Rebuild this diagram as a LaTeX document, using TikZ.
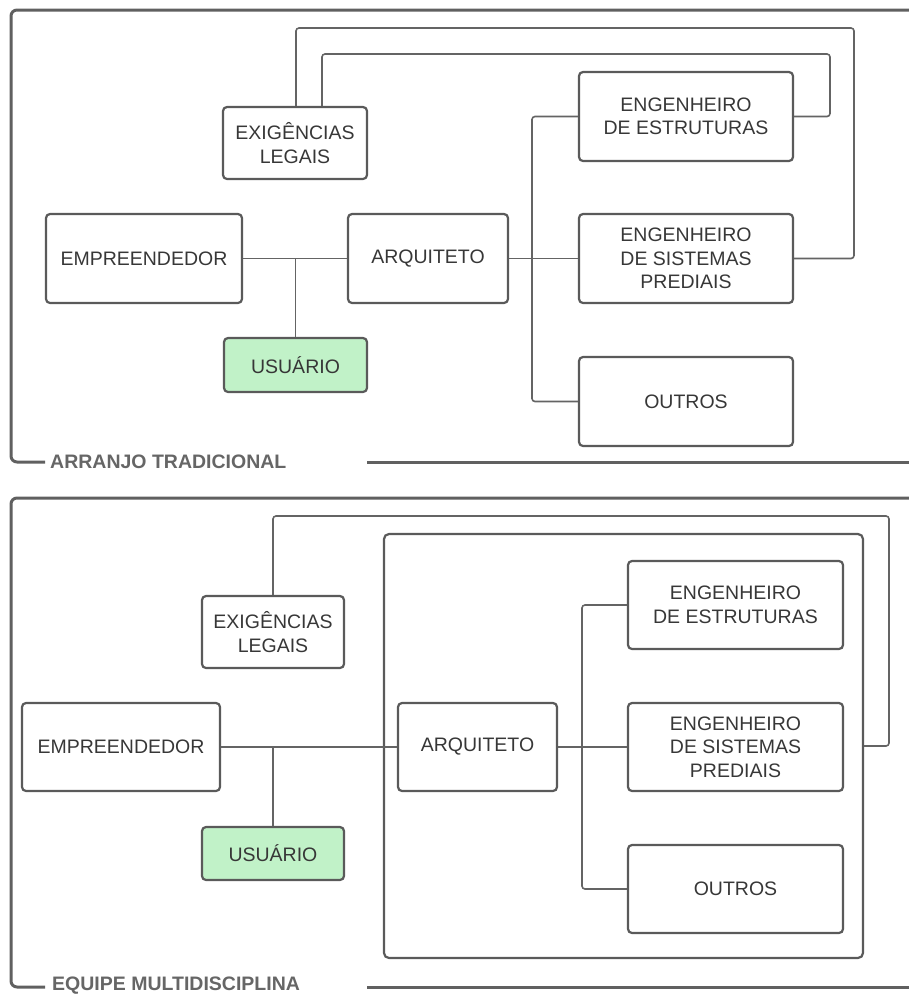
\documentclass[tikz,border=0pt]{standalone}
\usepackage{fontspec}
\setmainfont{Liberation Sans}
\begin{document}
\definecolor{boxline}{RGB}{90,90,90}
\definecolor{connline}{RGB}{100,100,100}
\definecolor{frameline}{RGB}{96,96,96}
\definecolor{labeltext}{RGB}{102,102,102}
\definecolor{bodytext}{RGB}{55,55,55}
\definecolor{userfill}{RGB}{193,242,200}
\begin{tikzpicture}[x=1pt,y=-1pt,
  box/.style={draw=boxline, line width=2.2pt, rounded corners=4pt, inner sep=0pt,
    align=center, text=bodytext, font=\fontsize{19.5}{23.5}\selectfont},
  userbox/.style={box, fill=userfill},
  teambox/.style={draw=boxline, line width=2.2pt, rounded corners=5pt, inner sep=0pt},
  conn/.style={draw=connline, line width=1.6pt, rounded corners=3pt},
  frame/.style={draw=frameline, line width=3pt, rounded corners=6pt},
  framelabel/.style={text=labeltext, inner sep=0pt, anchor=base west,
    font=\bfseries\fontsize{19.5}{23.5}\selectfont}]
\useasboundingbox (0,0) rectangle (909,994);

% ---------- traditional arrangement ----------
\draw[frame] (909,10) -- (11,10) -- (11,462) -- (45,462);
\node[framelabel] (lblA) at (50,468) {ARRANJO TRADICIONAL};
\draw[frame] (367,462) -- (909,462);

\node[box, minimum width=144pt, minimum height=72pt] (exA) at (295,143) {EXIGÊNCIAS\\LEGAIS};
\node[box, minimum width=214pt, minimum height=89pt] (estA) at (686,116.5) {ENGENHEIRO\\DE ESTRUTURAS};
\node[box, minimum width=214pt, minimum height=89pt] (sisA) at (686,258.5) {ENGENHEIRO\\DE SISTEMAS\\PREDIAIS};
\node[box, minimum width=214pt, minimum height=89pt] (outA) at (686,401.5) {OUTROS};
\node[box, minimum width=160pt, minimum height=89pt] (arqA) at (428,258.5) {ARQUITETO};
\node[box, minimum width=196pt, minimum height=89pt] (empA) at (144,258.5) {EMPREENDEDOR};
\node[userbox, minimum width=143pt, minimum height=54pt] (usuA) at (295.5,365) {USUÁRIO};

\coordinate (busA) at (532,0);
\coordinate (topA1) at (854,28);
\coordinate (topA2) at (830,54);

\draw[conn] (empA.east) -- (arqA.west);
\draw[conn] (usuA.north) -- (usuA.north |- empA.east);
\draw[conn] (arqA.east) -- (sisA.west);
\draw[conn] (estA.west) -- (estA.west -| busA) -- (outA.west -| busA) -- (outA.west);
\draw[conn] ([xshift=1pt]exA.north) |- (topA1) |- (sisA.east);
\draw[conn] ([xshift=27pt]exA.north) |- (topA2) |- (estA.east);

% ---------- multidisciplinary team ----------
\draw[frame] (909,498) -- (11,498) -- (11,987) -- (45,987);
\node[framelabel] (lblB) at (52,990) {EQUIPE MULTIDISCIPLINA};
\draw[frame] (367,987) -- (909,987);

\node[teambox, minimum width=479pt, minimum height=424pt] (teamB) at (623.5,746) {};

\node[box, minimum width=142pt, minimum height=72pt] (exB) at (273,632) {EXIGÊNCIAS\\LEGAIS};
\node[box, minimum width=215pt, minimum height=88pt] (estB) at (735.5,605) {ENGENHEIRO\\DE ESTRUTURAS};
\node[box, minimum width=215pt, minimum height=88pt] (sisB) at (735.5,747) {ENGENHEIRO\\DE SISTEMAS\\PREDIAIS};
\node[box, minimum width=215pt, minimum height=88pt] (outB) at (735.5,889) {OUTROS};
\node[box, minimum width=159pt, minimum height=88pt] (arqB) at (477.5,747) {ARQUITETO};
\node[box, minimum width=198pt, minimum height=88pt] (empB) at (121,747) {EMPREENDEDOR};
\node[userbox, minimum width=142pt, minimum height=53pt] (usuB) at (273,853.5) {USUÁRIO};

\coordinate (busB) at (582,0);
\coordinate (topB) at (889,516);

\draw[conn] (empB.east) -- (arqB.west);
\draw[conn] (usuB.north) -- (usuB.north |- empB.east);
\draw[conn] (arqB.east) -- (sisB.west);
\draw[conn] (estB.west) -- (estB.west -| busB) -- (outB.west -| busB) -- (outB.west);
\draw[conn] (exB.north) |- (topB) |- (teamB.east);
\end{tikzpicture}
\end{document}
